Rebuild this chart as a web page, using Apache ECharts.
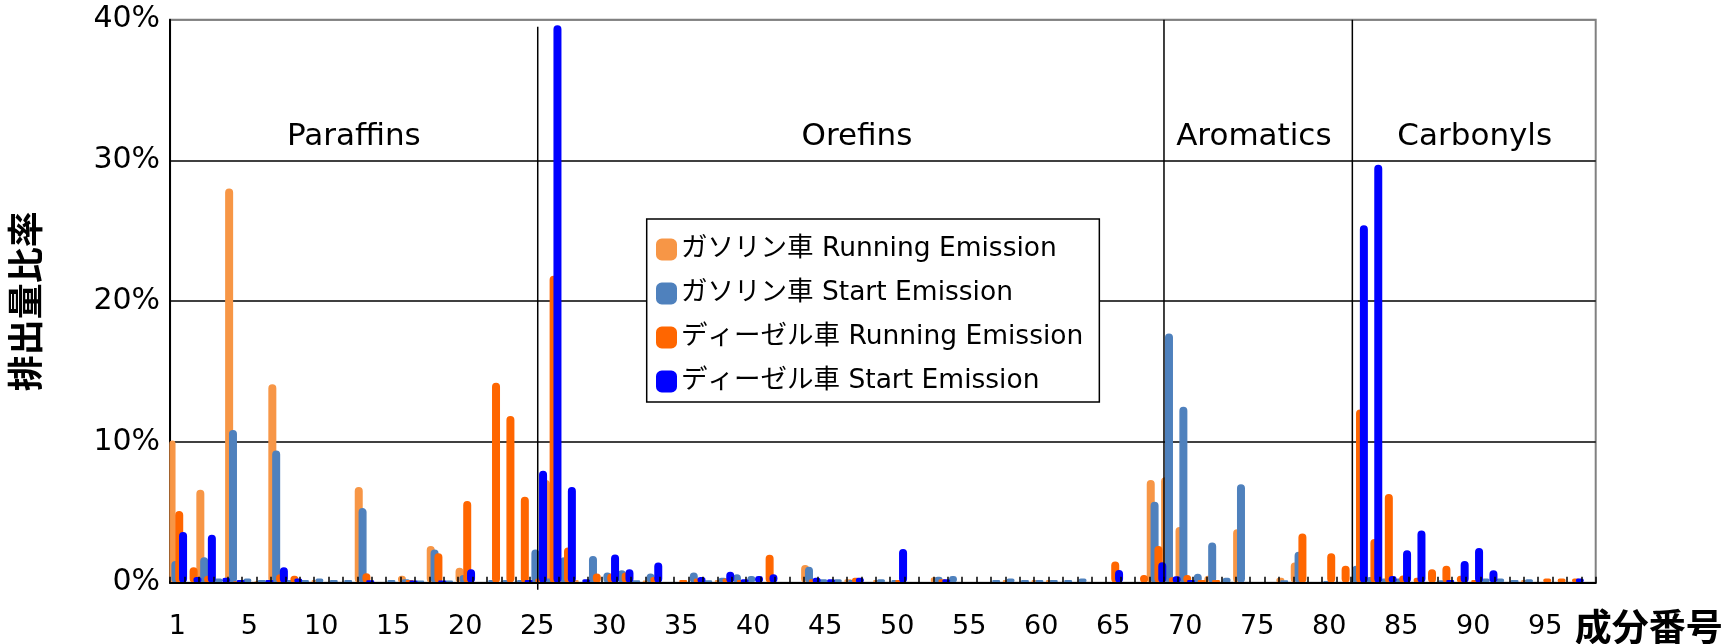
<!DOCTYPE html>
<html>
<head>
<meta charset="utf-8">
<script src="https://cdn.jsdelivr.net/npm/echarts@6/dist/echarts.min.js"></script>
<style>html,body{margin:0;padding:0;background:#fff}#c{width:1723px;height:644px}</style>
</head>
<body>
<div id="c"></div>
<script>
const categories = [1,2,3,4,5,6,7,8,9,10,11,12,13,14,15,16,17,18,19,20,21,22,23,24,25,26,27,28,29,30,31,32,33,34,35,36,37,38,39,40,41,42,43,44,45,46,47,48,49,50,51,52,53,54,55,56,57,58,59,60,61,62,63,64,65,66,67,68,69,70,71,72,73,74,75,76,77,78,79,80,81,82,83,84,85,86,87,88,89,90,91,92,93,94,95,96,97,98,99];
const tickLabels = ['1','','','','','5','','','','','10','','','','','15','','','','','20','','','','','25','','','','','30','','','','','35','','','','','40','','','','','45','','','','','50','','','','','55','','','','','60','','','','','65','','','','','70','','','','','75','','','','','80','','','','','85','','','','','90','','','','','95','','',''];
const yTicks = [0,10,20,30,40];
const seriesNames = ['ガソリン車 Running Emission','ガソリン車 Start Emission','ディーゼル車 Running Emission','ディーゼル車 Start Emission'];
const gasRunning = [
 10.1,0,6.6,0,28.0,0.15,0.1,14.1,0.1,0,
 0.2,0,0,6.8,0,0,0.5,0,2.6,0,
 1.07,0,0,0,0,0.2,7.3,0.2,0.2,0,
 0,0,0,0.15,0,0,0,0,0.2,0,
 0,0,0,0,1.26,0,0,0.24,0,0.2,
 0,0,0,0.38,0,0,0,0,0.2,0,
 0.2,0.2,0,0,0,0,0,0,7.3,7.5,
 3.95,0,0.5,0,3.8,0,0,0.36,1.43,0,
 0,0,0,0,0,0,0,0,0,0,
 0,0,0,0,0.2,0,0,0,0];
const gasStart = [
 1.55,0,1.8,0.3,10.85,0.3,0.2,9.4,0.2,0.2,
 0.3,0.2,0.2,5.3,0,0.2,0.25,0.15,2.35,0.15,
 0.55,0,0.2,0.2,0.2,2.35,0.3,1.8,0,1.9,
 0.72,0.88,0.17,0.65,0,0,0.72,0.17,0.35,0.6,
 0.48,0,0,0,1.14,0.24,0.24,0.2,0,0.24,
 0.2,0,0,0.43,0.48,0,0,0.2,0.3,0.2,
 0.2,0.2,0.2,0.3,0,0,0,0,5.75,17.7,
 12.5,0.64,2.86,0.36,7.0,0,0,0.17,2.2,0,
 0.12,0,1.2,0.4,0.3,0.3,0,0,0.17,0,
 0,0.3,0.3,0.2,0.25,0,0,0,0];
const dieselRunning = [
 5.1,1.1,0.5,0,0.1,0,0,0.6,0.5,0,
 0,0,0,0.67,0,0,0.2,0,2.1,0,
 5.8,0,14.2,11.85,6.1,0.3,21.8,2.5,0,0.65,
 0.65,0.72,0,0.4,0,0.2,0.3,0,0.3,0.2,
 0,1.98,0,0,0.24,0,0,0.36,0,0,
 0.2,0,0,0.24,0,0,0,0,0,0,
 0,0,0,0,0,1.5,0,0.55,2.6,0.38,
 0.55,0.2,0.2,0,0,0,0,0,3.5,0,
 2.1,1.2,12.3,3.1,6.3,0.52,0.36,0.95,1.2,0.5,
 0.2,0,0,0,0,0.3,0.3,0.3,0];
const dieselStart = [
 3.6,0.4,3.4,0.35,0.2,0,0.2,1.1,0.3,0,
 0,0,0,0.17,0,0,0.15,0,0.15,0,
 0.95,0,0,0,0.2,7.95,39.6,6.8,0.25,0,
 2.0,0.95,0,1.43,0,0,0.4,0,0.78,0.24,
 0.48,0.6,0,0,0.36,0.24,0,0.36,0,0,
 2.4,0,0,0.24,0,0,0,0,0,0,
 0,0,0,0,0,0.9,0,0,1.45,0.45,
 0.2,0,0,0,0,0,0,0,0,0,
 0,0,25.4,29.7,0.48,2.3,3.7,0,0.2,1.55,
 2.46,0.88,0,0,0,0,0,0.3,0];
const groupNames = ['Paraffins','Orefins','Aromatics','Carbonyls'];
const groupLabelX = [12.76,47.7,75.26,90.6];
const groupLabelY = 31.65;
const separatorX = [25.53,69.02,82.1];

const colors = ['#F79646','#4F81BD','#FF6600','#0000FF'];
const seriesData = [gasRunning,gasStart,dieselRunning,dieselStart];
const FONT = '"DejaVu Sans", "Noto Sans CJK JP", sans-serif';

const chart = echarts.init(document.getElementById('c'), null, {renderer:'canvas'});

const barSeries = seriesData.map((arr, k) => ({
  name: seriesNames[k],
  type: 'bar',
  xAxisIndex: 0, yAxisIndex: 0,
  barWidth: 8,
  barGap: '-52%',
  itemStyle: {color: colors[k], borderColor: colors[k], borderWidth: 1.5, borderRadius: 4},
  data: arr.map(v => v === 0 ? '-' : v),
  z: 2
}));

const sepSeries = separatorX.map((x, k) => ({
  type: 'line',
  xAxisIndex: 1, yAxisIndex: 0,
  silent: true, clip: false, symbol: 'none',
  lineStyle: {color: '#000', width: 1.5},
  data: k === 0 ? [[x, 39.5], [x, -0.5]] : [[x, 40], [x, 0]],
  z: 3
}));

const labelSeries = {
  type: 'scatter',
  xAxisIndex: 1, yAxisIndex: 0,
  silent: true,
  symbolSize: 1,
  itemStyle: {color: '#fff', opacity: 0},
  label: {show: true, position: 'inside', formatter: '{b}', fontSize: 31, color: '#000',
    textBorderWidth: 0, textBorderColor: 'transparent', opacity: 1, fontFamily: FONT},
  data: groupNames.map((n, i) => ({name: n, value: [groupLabelX[i], groupLabelY]})),
  z: 4
};

chart.setOption({
  animation: false,
  backgroundColor: '#fff',
  textStyle: {fontFamily: FONT},
  grid: {left: 170.1, top: 19.7, width: 1425.6, height: 563, show: true, borderColor: '#808080', borderWidth: 2,
    backgroundColor: 'transparent', containLabel: false, outerBoundsMode: 'none'},
  legend: {
    data: seriesNames,
    orient: 'vertical',
    left: 646.7, top: 219,
    padding: [12, 16, 2, 9.3],
    itemWidth: 19, itemHeight: 20, itemGap: 7,
    icon: 'roundRect',
    borderColor: '#000', borderWidth: 1.5, backgroundColor: '#fff',
    textStyle: {fontSize: 26.5, lineHeight: 27, padding: [10, 0, 0, 0], color: '#000', fontFamily: FONT},
    selectedMode: false,
    z: 10
  },
  xAxis: [{
    type: 'category',
    data: categories.map(String),
    boundaryGap: true,
    z: 5,
    axisLine: {lineStyle: {color: '#000', width: 2}},
    axisTick: {show: true, inside: true, length: 6, interval: 0, lineStyle: {color: '#000', width: 1.5}},
    axisLabel: {interval: 0, margin: 31, fontSize: 27, color: '#000', fontFamily: FONT,
      formatter: (v, i) => tickLabels[i]},
    splitLine: {show: false},
    name: '成分番号',
    nameLocation: 'end',
    nameGap: -21,
    nameTextStyle: {fontSize: 37, fontWeight: 'bold', color: '#000', align: 'left', verticalAlign: 'top', padding: [30,0,0,0], fontFamily: FONT}
  }, {
    type: 'value', min: 0, max: 99, show: false, gridIndex: 0
  }],
  yAxis: {
    type: 'value', min: yTicks[0], max: yTicks[yTicks.length-1], interval: 10,
    axisLine: {show: true, lineStyle: {color: '#000', width: 2}},
    axisTick: {show: false},
    axisLabel: {formatter: '{value}%', fontSize: 30, color: '#000', margin: 10, fontFamily: FONT},
    splitLine: {show: true, lineStyle: {color: ['#000','#000','#000','#000','#808080'], width: 1.5}},
    name: '排出量比率',
    nameLocation: 'middle',
    nameRotate: 90,
    nameGap: 122,
    nameTextStyle: {fontSize: 36, fontWeight: 'bold', color: '#000', fontFamily: FONT}
  },
  series: [...barSeries, ...sepSeries, labelSeries]
});
</script>
</body>
</html>
